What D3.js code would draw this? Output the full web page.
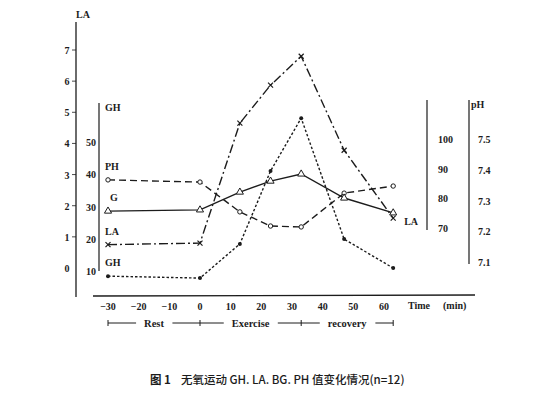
<!DOCTYPE html>
<html>
<head>
<meta charset="utf-8">
<script src="https://cdn.jsdelivr.net/npm/d3@7"></script>
<style>
  body { margin: 0; background: #fff; }
  text { font-family: "Liberation Serif", "DejaVu Serif", serif; fill: #1c1c1c; }
</style>
</head>
<body>
<script>
// time points (min) and the four measured series
var times = [-30, 0, 13, 23, 33, 47, 63];
var ghValues = [8.4, 7.8, 18.4, 41, 57.4, 19.9, 10.9];
var laValues = [0.75, 0.8, 4.65, 5.87, 6.8, 3.78, 1.6];
var gValues = [75.7, 76.1, 82.1, 85.8, 88.2, 80.1, 75.1];
var phValues = [7.367, 7.36, 7.263, 7.217, 7.214, 7.324, 7.347];

var timeTicks = [-30, -20, -10, 0, 10, 20, 30, 40, 50, 60];
var laTicks = [0, 1, 2, 3, 4, 5, 6, 7];
var ghTicks = [10, 20, 30, 40, 50];
var gTicks = [70, 80, 90, 100];
var phTicks = [7.1, 7.2, 7.3, 7.4, 7.5];

var phases = ["Rest", "Exercise", "recovery"];
var phaseBounds = [-30, 0, 33, 63];

var width = 554, height = 403;
var ink = "#1c1c1c";

var svg = d3.select("body")
            .append("svg")
              .attr("width", width)
              .attr("height", height);

var x = d3.scaleLinear().domain([-30, 60]).range([108, 384]);
var yLA = d3.scaleLinear().domain([0, 7]).range([268, 50]);
var yGH = d3.scaleLinear().domain([10, 50]).range([271, 142]);
var yG = d3.scaleLinear().domain([70, 100]).range([228, 139]);
var yPH = d3.scaleLinear().domain([7.1, 7.5]).range([262, 139]);

// ---- axes ----
// LA axis (far left)
svg.append("line").attr("x1", 76).attr("x2", 76).attr("y1", 22).attr("y2", 297)
   .attr("stroke", ink).attr("stroke-width", 1.3);
svg.append("text").attr("x", 76).attr("y", 18).attr("font-size", 10).attr("font-weight", "bold")
   .text("LA");
svg.selectAll(".la-tick").data(laTicks).enter().append("text")
   .attr("class", "la-tick")
   .attr("x", 67).attr("y", function(d) { return yLA(d) + 4; })
   .attr("text-anchor", "middle").attr("font-size", 10).attr("font-weight", "bold")
   .text(function(d) { return d; });
svg.selectAll(".la-mark").data(laTicks.slice(1)).enter().append("line")
   .attr("class", "la-mark")
   .attr("x1", 72).attr("x2", 76)
   .attr("y1", function(d) { return yLA(d); }).attr("y2", function(d) { return yLA(d); })
   .attr("stroke", ink).attr("stroke-width", 0.8);

// GH axis
svg.append("line").attr("x1", 99).attr("x2", 99).attr("y1", 103).attr("y2", 271)
   .attr("stroke", ink).attr("stroke-width", 1.2);
svg.append("text").attr("x", 105).attr("y", 111).attr("font-size", 10).attr("font-weight", "bold")
   .text("GH");
svg.selectAll(".gh-tick").data(ghTicks).enter().append("text")
   .attr("class", "gh-tick")
   .attr("x", 96).attr("y", function(d) { return yGH(d) + 4; })
   .attr("text-anchor", "end").attr("font-size", 10).attr("font-weight", "bold")
   .text(function(d) { return d; });

// G axis (right, no title)
svg.append("line").attr("x1", 427).attr("x2", 427).attr("y1", 100).attr("y2", 230)
   .attr("stroke", ink).attr("stroke-width", 1.2);
svg.selectAll(".g-tick").data(gTicks).enter().append("text")
   .attr("class", "g-tick")
   .attr("x", 438).attr("y", function(d) { return yG(d) + 4; })
   .attr("font-size", 10).attr("font-weight", "bold")
   .text(function(d) { return d; });

// pH axis
svg.append("line").attr("x1", 469).attr("x2", 469).attr("y1", 100).attr("y2", 264)
   .attr("stroke", ink).attr("stroke-width", 1.2);
svg.append("text").attr("x", 471).attr("y", 108).attr("font-size", 10).attr("font-weight", "bold")
   .text("pH");
svg.selectAll(".ph-tick").data(phTicks).enter().append("text")
   .attr("class", "ph-tick")
   .attr("x", 478).attr("y", function(d) { return yPH(d) + 4; })
   .attr("font-size", 10).attr("font-weight", "bold")
   .text(function(d) { return d.toFixed(1); });

// time axis
svg.append("line").attr("x1", 93).attr("x2", 475).attr("y1", 296).attr("y2", 295)
   .attr("stroke", ink).attr("stroke-width", 1.3);
svg.selectAll(".t-tick").data(timeTicks).enter().append("text")
   .attr("class", "t-tick")
   .attr("x", function(d) { return x(d); }).attr("y", 310)
   .attr("text-anchor", "middle").attr("font-size", 10).attr("font-weight", "bold")
   .text(function(d) { return d < 0 ? "\u2212" + (-d) : d; });
svg.append("text").attr("x", 408).attr("y", 309).attr("font-size", 10).attr("font-weight", "bold")
   .text("Time");
svg.append("text").attr("x", 443).attr("y", 309).attr("font-size", 10).attr("font-weight", "bold")
   .text("(min)");

// phase brackets
var py = 323;
svg.append("line").attr("x1", x(phaseBounds[0])).attr("x2", x(phaseBounds[3]))
   .attr("y1", py).attr("y2", py).attr("stroke", ink).attr("stroke-width", 1);
svg.selectAll(".p-mark").data(phaseBounds).enter().append("line")
   .attr("class", "p-mark")
   .attr("x1", function(d) { return x(d); }).attr("x2", function(d) { return x(d); })
   .attr("y1", py - 3).attr("y2", py + 3).attr("stroke", ink).attr("stroke-width", 1);
var phaseG = svg.selectAll(".phase").data(phases).enter().append("g").attr("class", "phase");
phaseG.append("text")
   .attr("x", function(d, i) { return x((phaseBounds[i] + phaseBounds[i + 1]) / 2); })
   .attr("y", py + 3.5).attr("text-anchor", "middle").attr("font-size", 10.5)
   .attr("font-weight", "bold")
   .text(function(d) { return d; })
   .each(function() {
     var b = this.getBBox();
     d3.select(this.parentNode).insert("rect", "text")
       .attr("x", b.x - 8).attr("y", b.y).attr("width", b.width + 16).attr("height", b.height)
       .attr("fill", "#fff");
   });

// ---- series ----
function draw(values, yScale, dash) {
  var pts = times.map(function(t, i) { return [x(t), yScale(values[i])]; });
  svg.append("path")
     .attr("d", d3.line()(pts))
     .attr("fill", "none").attr("stroke", ink).attr("stroke-width", 1.4)
     .attr("stroke-dasharray", dash);
  return pts;
}

var phPts = draw(phValues, yPH, "7,4");
var gPts = draw(gValues, yG, null);
var laPts = draw(laValues, yLA, "9,3,2,3");
var ghPts = draw(ghValues, yGH, "2.5,2");

svg.selectAll(".m-ph").data(phPts).enter().append("circle")
   .attr("class", "m-ph").attr("cx", function(d) { return d[0]; }).attr("cy", function(d) { return d[1]; })
   .attr("r", 2.2).attr("fill", "#fff").attr("stroke", ink).attr("stroke-width", 1);
svg.selectAll(".m-g").data(gPts).enter().append("path")
   .attr("class", "m-g")
   .attr("d", d3.symbol().type(d3.symbolTriangle).size(22))
   .attr("transform", function(d) { return "translate(" + d[0] + "," + d[1] + ")"; })
   .attr("fill", "#fff").attr("stroke", ink).attr("stroke-width", 1);
svg.selectAll(".m-la").data(laPts).enter().append("path")
   .attr("class", "m-la")
   .attr("d", function(d) {
     return "M" + (d[0] - 2.5) + "," + (d[1] - 2.5) + "L" + (d[0] + 2.5) + "," + (d[1] + 2.5) +
            "M" + (d[0] - 2.5) + "," + (d[1] + 2.5) + "L" + (d[0] + 2.5) + "," + (d[1] - 2.5);
   })
   .attr("stroke", ink).attr("stroke-width", 1.2);
svg.selectAll(".m-gh").data(ghPts).enter().append("circle")
   .attr("class", "m-gh").attr("cx", function(d) { return d[0]; }).attr("cy", function(d) { return d[1]; })
   .attr("r", 2).attr("fill", ink);

// series names beside the start of each line
var seriesNames = ["PH", "G", "LA", "GH"];
var seriesStarts = [phPts[0], gPts[0], laPts[0], ghPts[0]];
svg.selectAll(".s-name").data(seriesNames).enter().append("text")
   .attr("class", "s-name")
   .attr("x", function(d, i) { return d === "G" ? 110 : 105; })
   .attr("y", function(d, i) { return seriesStarts[i][1] - 10; })
   .attr("font-size", 10).attr("font-weight", "bold")
   .text(function(d) { return d; });
svg.append("text").attr("x", laPts[6][0] + 11).attr("y", laPts[6][1] + 7)
   .attr("font-size", 10).attr("font-weight", "bold").text("LA");

// caption
var cap = svg.append("text").attr("x", 150).attr("y", 384)
   .attr("font-size", 11.5).attr("font-weight", 500)
   .style("font-family", "'Noto Sans CJK SC', sans-serif");
cap.append("tspan").attr("font-weight", "bold").text("图 1");
cap.append("tspan").attr("dx", 10).text("无氧运动 GH. LA. BG. PH 值变化情况(n=12)");
</script>
</body>
</html>
